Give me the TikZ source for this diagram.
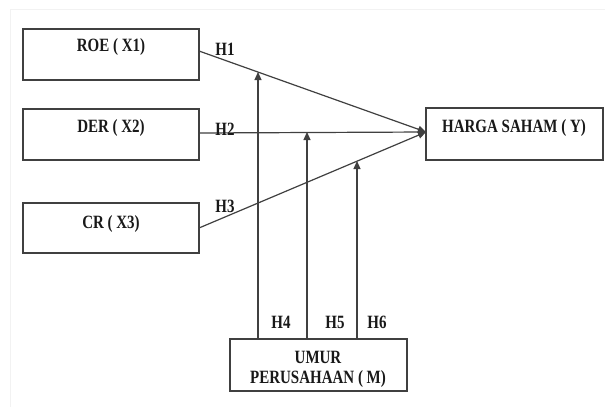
\documentclass[tikz,border=0pt]{standalone}
\usepackage{fontspec}
\setmainfont{Liberation Serif}
\usetikzlibrary{arrows.meta}
\definecolor{ln}{HTML}{404040}
\definecolor{fr}{HTML}{F2F2F2}
\newcommand{\tx}[1]{\scalebox{1}[1.25]{\fontsize{15}{18}\selectfont\bfseries #1}}
\tikzset{
  x=1pt, y=-1pt,
  box/.style={draw=ln, line width=1.4pt, fill=white},
  conn/.style={draw=ln, line width=1.2pt},
  arr/.style={conn, -{Triangle[length=8pt,width=7pt]}},
  lab/.style={inner sep=0pt, text=black!90},
}
\begin{document}
\begin{tikzpicture}
\useasboundingbox (0,0) rectangle (605,407);
\fill[white] (0,0) rectangle (605,407);
\draw[fr, line width=0.8pt] (10,407) -- (10,9) -- (605,9);
% boxes
\draw[box] (23,29) rectangle (199,80);
\draw[box] (23,109) rectangle (199,160);
\draw[box] (23,203) rectangle (199,253);
\draw[box] (426,108) rectangle (603,160);
\draw[box] (230,339) rectangle (407,391);
\coordinate (roe) at (199,51);
\coordinate (der) at (199,133);
\coordinate (cr) at (199,228);
\coordinate (y) at (426,132);
\coordinate (m4) at (258,339);
\coordinate (m5) at (307,339);
\coordinate (m6) at (357,339);
\coordinate (t4) at (258,72);
\coordinate (t5) at (307,132);
\coordinate (t6) at (357,161);
\node[lab] (troe) at (111,47) {\tx{ROE ( X1)}};
\node[lab] (tder) at (111,128) {\tx{DER ( X2)}};
\node[lab] (tcr) at (111,224) {\tx{CR ( X3)}};
\node[lab] (ty) at (514,128) {\tx{HARGA SAHAM ( Y)}};
\node[lab] (tm1) at (318,357) {\tx{UMUR}};
\node[lab] (tm2) at (318,379) {\tx{PERUSAHAAN ( M)}};
% connectors
\draw[arr] (roe) -- (y);
\draw[arr] (der) -- (y);
\draw[arr] (cr) -- (y);
\draw[arr] (m4) -- (t4);
\draw[arr] (m5) -- (t5);
\draw[arr] (m6) -- (t6);
% labels
\node[lab] (h1) at (225,49) {\tx{H1}};
\node[lab] (h2) at (225,129) {\tx{H2}};
\node[lab] (h3) at (225,206) {\tx{H3}};
\node[lab] (h4) at (281,322) {\tx{H4}};
\node[lab] (h5) at (335,322) {\tx{H5}};
\node[lab] (h6) at (377,322) {\tx{H6}};
\end{tikzpicture}
\end{document}
